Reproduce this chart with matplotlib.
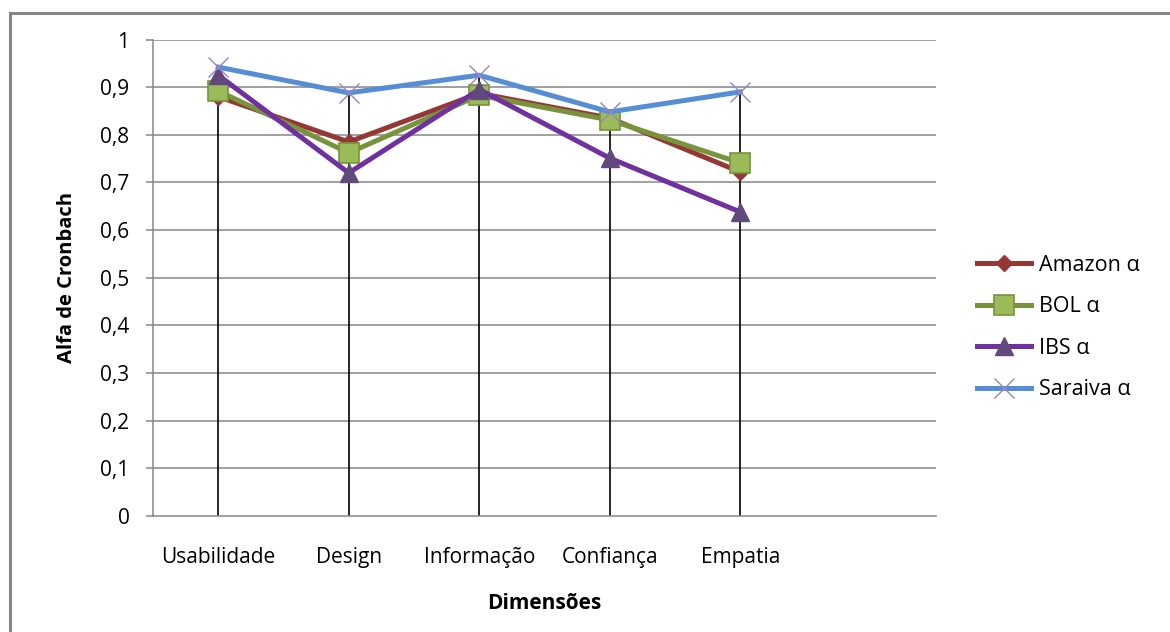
import matplotlib
matplotlib.use("Agg")
import matplotlib.pyplot as plt
from matplotlib.patches import Rectangle
from matplotlib.ticker import FuncFormatter

plt.rcParams['font.family'] = ['Open Sans', 'DejaVu Sans']

dimensoes = ["Usabilidade", "Design", "Informação", "Confiança", "Empatia"]
amazon = [0.88, 0.785, 0.887, 0.835, 0.722]
bol = [0.892, 0.762, 0.883, 0.831, 0.741]
ibs = [0.925, 0.720, 0.895, 0.751, 0.638]
saraiva = [0.942, 0.888, 0.925, 0.848, 0.890]
y_ticks = [0, 0.1, 0.2, 0.3, 0.4, 0.5, 0.6, 0.7, 0.8, 0.9, 1]

grid_c = "#868686"

fig = plt.figure(figsize=(11.7, 6.32), dpi=100)
ax = fig.add_axes([153 / 1170, 1 - 516 / 632, (936 - 153) / 1170, (516 - 39.5) / 632])

# outer chart border (left and top edges visible)
fig.patches.append(Rectangle((10 / 1170, -0.05), 1.2, 1.05 - 13 / 632,
                             transform=fig.transFigure, fill=False,
                             edgecolor=grid_c, linewidth=2.2))

x = list(range(len(dimensoes)))

# horizontal gridlines
for t in y_ticks[1:]:
    ax.axhline(t, color=grid_c, linewidth=1.1, zorder=0)

# drop lines from the highest point down to the axis
tops = [max(v) for v in zip(amazon, bol, ibs, saraiva)]
ax.vlines(x, 0, tops, color="black", linewidth=1.2, zorder=1)

ax.plot(x, amazon, color="#953735", linewidth=3.6, marker="D", markersize=8,
        markerfacecolor="#953735", markeredgecolor="#953735", label="Amazon α", zorder=3)
ax.plot(x, bol, color="#77933C", linewidth=3.6, marker="s", markersize=14,
        markerfacecolor="#9BBB59", markeredgecolor="#77933C", markeredgewidth=1.2,
        label="BOL α", zorder=4)
ax.plot(x, ibs, color="#7030A0", linewidth=3.6, marker="^", markersize=13,
        markerfacecolor="#604A7B", markeredgecolor="#604A7B", label="IBS α", zorder=5)
ax.plot(x, saraiva, color="#558ED5", linewidth=3.6, marker="x", markersize=14,
        markeredgecolor="#9983C0", markeredgewidth=1.0, label="Saraiva α", zorder=6)

ax.set_xlim(-0.5, 5.5)
ax.set_ylim(0, 1)
ax.set_xticks(x)
ax.set_xticklabels(dimensoes, fontsize=15)
ax.set_yticks(y_ticks)
ax.yaxis.set_major_formatter(FuncFormatter(lambda v, p: ("%g" % v).replace(".", ",")))
ax.tick_params(axis="y", labelsize=15, length=5, color=grid_c, width=1.1, pad=12)
ax.tick_params(axis="x", length=0, pad=22)

for s in ["top", "right"]:
    ax.spines[s].set_visible(False)
ax.spines["left"].set_color(grid_c)
ax.spines["bottom"].set_color(grid_c)
ax.spines["left"].set_linewidth(1.1)
ax.spines["bottom"].set_linewidth(1.1)

ax.set_ylabel("Alfa de Cronbach", fontsize=14.5, fontweight="bold", labelpad=17)
ax.set_xlabel("Dimensões", fontsize=15, fontweight="bold", labelpad=18)

fig.legend(loc="center left", bbox_to_anchor=(958 / 1170, 1 - 327.5 / 632),
           frameon=False, fontsize=15.5, handlelength=2.5, labelspacing=0.95,
           handletextpad=0.35, borderpad=0.4)

fig.savefig("out.png", dpi=100)
